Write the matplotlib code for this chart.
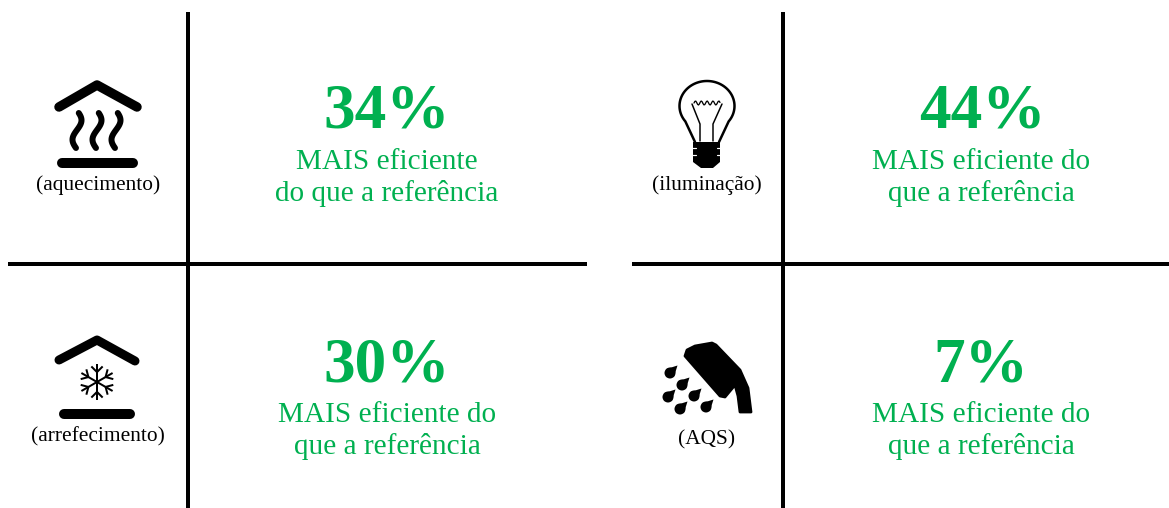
"""Efficiency summary panel, drawn in pixel coordinates."""

import numpy as np
from matplotlib import pyplot as plt
from matplotlib.patches import Circle, Polygon

WIDTH, HEIGHT = 1169, 508
GREEN = "#00b050"

percentages = ["34%", "44%", "30%", "7%"]
captions = [
    "MAIS eficiente\ndo que a referência",
    "MAIS eficiente do\nque a referência",
    "MAIS eficiente do\nque a referência",
    "MAIS eficiente do\nque a referência",
]
labels = ["(aquecimento)", "(iluminação)", "(arrefecimento)", "(AQS)"]

percent_x = [387, 982, 387, 981]
percent_y = [127, 127, 381, 381]
caption_x = [387, 981, 387, 981]
caption_y = [178, 178, 431, 431]
label_x = [98, 707, 98, 707]
label_y = [185, 185, 437, 440]

plt.rcParams["font.family"] = ["Liberation Serif", "DejaVu Serif"]

fig = plt.figure(figsize=(WIDTH / 100, HEIGHT / 100), dpi=100)
ax = fig.add_axes([0, 0, 1, 1])
ax.set_xlim(0, WIDTH)
ax.set_ylim(HEIGHT, 0)
ax.axis("off")


def stroke(xs, ys, width, cap="round", color="black"):
    # widths are given in pixels, matplotlib wants points
    ax.plot(xs, ys, color=color, lw=width * 0.72, solid_capstyle=cap,
            solid_joinstyle="round")


def draw_roof_heat():
    stroke([59, 97, 137], [107, 85, 107], 9.5)
    stroke([62, 133], [163, 163], 10)
    t = np.linspace(0, 1, 40)
    for x0 in (77, 97, 116):
        stroke(x0 + 4.5 * np.sin(t * 1.8 * np.pi + 0.4), 113 + 35 * t, 6)


def draw_bulb():
    theta = np.linspace(np.radians(-38), np.radians(218), 80)
    xs = 707 + 27.5 * np.cos(theta)
    ys = 106 - 25 * np.sin(theta)
    stroke(np.r_[719, xs, 695], np.r_[142, ys, 142], 2.5)
    # filament and supports
    stroke([692, 700, 700], [104, 124, 141], 1.5)
    stroke([722, 713, 713], [104, 124, 141], 1.5)
    t = np.linspace(0, 1, 30)
    stroke(694 + 26 * t, 103 - 2 * np.sin(t * 28), 1.3)
    # screw base
    ax.add_patch(Polygon([(693, 142), (720, 142), (720, 162), (713, 168),
                          (701, 168), (693, 162)], fc="black", ec="none"))
    for y in (148, 155):
        stroke([692, 696], [y, y], 1.2, color="white")
        stroke([717, 721], [y, y], 1.2, color="white")


def draw_roof_snow():
    stroke([59, 97, 135], [360, 340, 361], 9)
    stroke([64, 130], [414, 414], 10)
    cx, cy, r = 97, 382, 18
    for deg in range(0, 360, 60):
        a = np.radians(deg + 90)
        ux, uy = np.cos(a), np.sin(a)
        stroke([cx, cx + r * ux], [cy, cy + r * uy], 2, cap="butt")
        for side in (-1, 1):
            b = a + side * np.radians(45)
            px, py = cx + r * 0.55 * ux, cy + r * 0.55 * uy
            stroke([px, px + 8 * np.cos(b)], [py, py + 8 * np.sin(b)], 2,
                   cap="butt")


def draw_shower():
    head = [(685, 356), (687, 350), (695, 346), (712, 343), (716, 345),
            (740, 370), (748, 388), (751, 412), (740, 412), (738, 396),
            (735, 385), (725, 397), (720, 396)]
    ax.add_patch(Polygon(head, fc="black", ec="black", lw=2, joinstyle="round"))
    drops = [(671, 372), (683, 384), (669, 396), (695, 395), (681, 408),
             (707, 406)]
    for x, y in drops:
        cx, cy = x - 1, y + 1
        ax.add_patch(Circle((cx, cy), 5.5, fc="black", ec="none"))
        ax.add_patch(Polygon([(cx + 3.9, cy + 3.9), (x + 6.5, y - 6.5),
                              (cx - 3.9, cy - 3.9)], fc="black", ec="none"))


for x in (188, 782.5):
    stroke([x, x], [12, 508], 4, cap="butt")
stroke([8, 587], [264, 264], 4, cap="butt")
stroke([632, 1169], [264, 264], 4, cap="butt")

draw_roof_heat()
draw_bulb()
draw_roof_snow()
draw_shower()

for i in range(4):
    ax.text(percent_x[i], percent_y[i], percentages[i], color=GREEN, fontsize=45.5,
            fontweight="bold", ha="center", va="baseline")
    ax.text(caption_x[i], caption_y[i], captions[i], color=GREEN, fontsize=21.1,
            ha="center", va="center", linespacing=1.25)
    ax.text(label_x[i], label_y[i], labels[i], color="black", fontsize=15.4,
            ha="center", va="center")

fig.savefig("out.png", dpi=100, facecolor="white")
